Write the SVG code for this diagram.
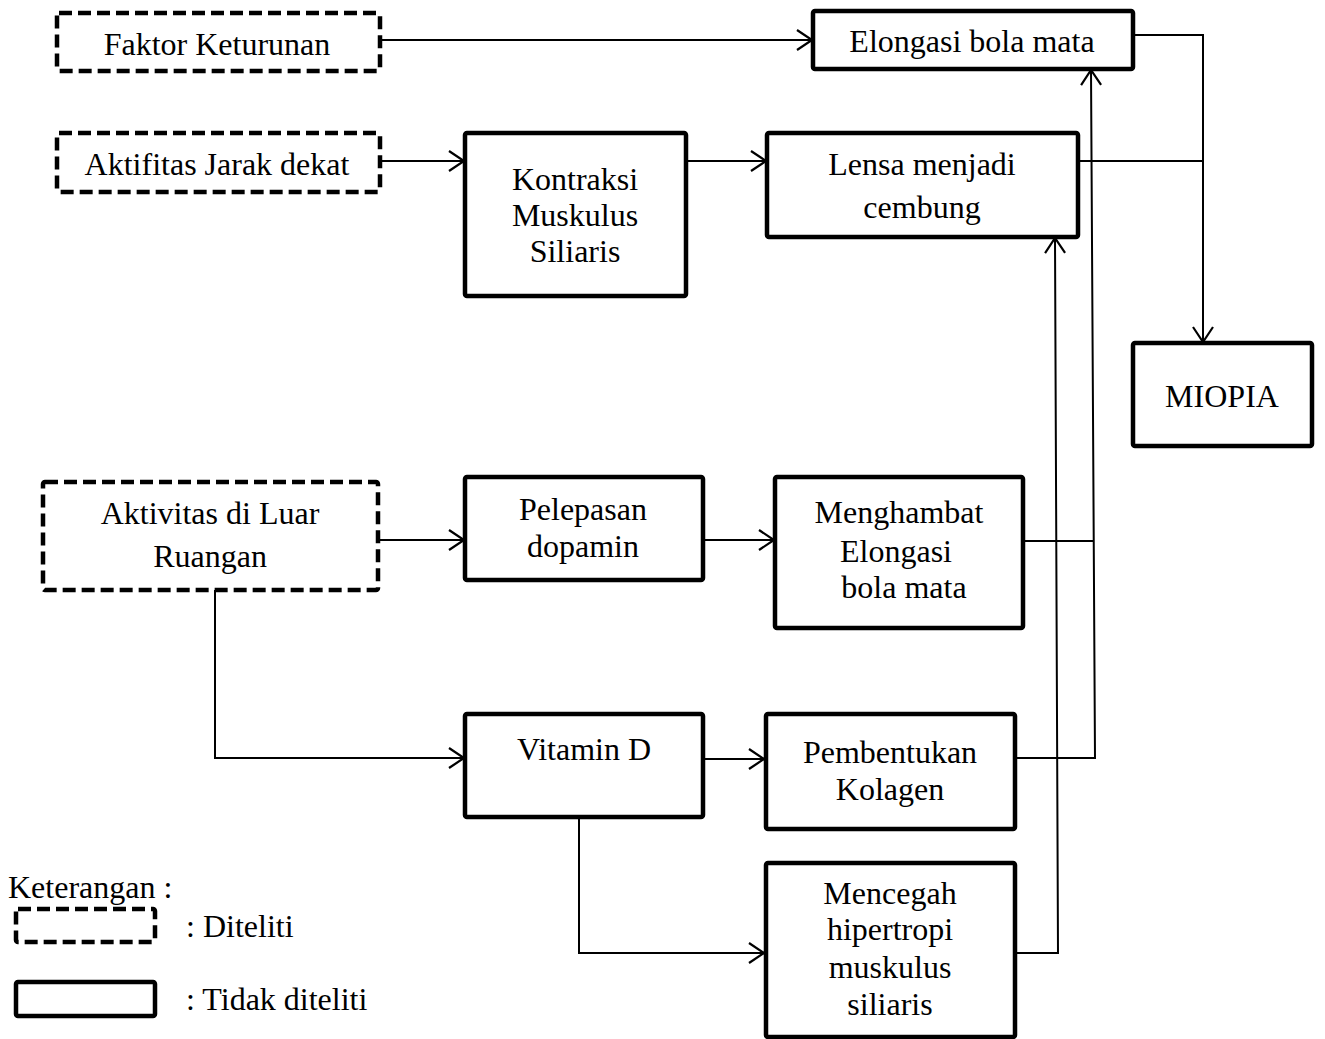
<svg xmlns="http://www.w3.org/2000/svg" width="1325" height="1039" viewBox="0 0 1325 1039">
<style>
.box{fill:#fff;stroke:#000;stroke-width:4.5}
.dash{fill:#fff;stroke:#000;stroke-width:4.5;stroke-dasharray:13 6}
.t{font-family:"Liberation Serif","Times New Roman",serif;font-size:32px;fill:#000;text-anchor:middle}
.l{font-family:"Liberation Serif","Times New Roman",serif;font-size:32px;fill:#000}
.c{fill:none;stroke:#000;stroke-width:2}
</style>
<defs>
<marker id="ar" markerUnits="userSpaceOnUse" markerWidth="22" markerHeight="26" refX="18" refY="12" orient="auto">
<path d="M3,2 L18,12 L3,22" fill="none" stroke="#000" stroke-width="2.2"/>
</marker>
</defs>
<g id="connectors">
<line class="c" x1="380" y1="40" x2="812" y2="40" marker-end="url(#ar)"/>
<line class="c" x1="380" y1="161" x2="464" y2="161" marker-end="url(#ar)"/>
<line class="c" x1="686" y1="161" x2="766" y2="161" marker-end="url(#ar)"/>
<polyline class="c" points="1133,35 1203,35 1203,342" marker-end="url(#ar)"/>
<line class="c" x1="1078" y1="161" x2="1203" y2="161"/>
<line class="c" x1="378" y1="540" x2="464" y2="540" marker-end="url(#ar)"/>
<line class="c" x1="703" y1="540" x2="774" y2="540" marker-end="url(#ar)"/>
<polyline class="c" points="215,590 215,758 464,758" marker-end="url(#ar)"/>
<line class="c" x1="703" y1="759" x2="764" y2="759" marker-end="url(#ar)"/>
<polyline class="c" points="579,817 579,953 764,953" marker-end="url(#ar)"/>
<line class="c" x1="1023" y1="541" x2="1094" y2="541"/>
<polyline class="c" points="1015,758 1095,758 1091,70" marker-end="url(#ar)"/>
<polyline class="c" points="1015,953 1058,953 1055,238" marker-end="url(#ar)"/>
</g>
<g id="faktor"><rect class="dash" x="57" y="13" width="323" height="58" rx="2"/><text class="t" x="217" y="55">Faktor Keturunan</text></g>
<g id="aktifitas"><rect class="dash" x="57" y="133" width="323" height="59" rx="2"/><text class="t" x="217" y="175">Aktifitas Jarak dekat</text></g>
<g id="elongasi"><rect class="box" x="813" y="11" width="320" height="58" rx="2"/><text class="t" x="972" y="52">Elongasi bola mata</text></g>
<g id="kontraksi"><rect class="box" x="465" y="133" width="221" height="163" rx="2"/><text class="t" x="575" y="190">Kontraksi</text><text class="t" x="575" y="226">Muskulus</text><text class="t" x="575" y="262">Siliaris</text></g>
<g id="lensa"><rect class="box" x="767" y="133" width="311" height="104" rx="2"/><text class="t" x="922" y="175">Lensa menjadi</text><text class="t" x="922" y="218">cembung</text></g>
<g id="miopia"><rect class="box" x="1133" y="343" width="179" height="103" rx="2"/><text class="t" x="1222" y="407">MIOPIA</text></g>
<g id="luar"><rect class="dash" x="43" y="482" width="335" height="108" rx="2"/><text class="t" x="210" y="524">Aktivitas di Luar</text><text class="t" x="210" y="567">Ruangan</text></g>
<g id="dopamin"><rect class="box" x="465" y="477" width="238" height="103" rx="2"/><text class="t" x="583" y="520">Pelepasan</text><text class="t" x="583" y="557">dopamin</text></g>
<g id="menghambat"><rect class="box" x="775" y="477" width="248" height="151" rx="2"/><text class="t" x="899" y="523">Menghambat</text><text class="t" x="896" y="562">Elongasi</text><text class="t" x="904" y="598">bola mata</text></g>
<g id="vitd"><rect class="box" x="465" y="714" width="238" height="103" rx="2"/><text class="t" x="584" y="760">Vitamin D</text></g>
<g id="kolagen"><rect class="box" x="766" y="714" width="249" height="115" rx="2"/><text class="t" x="890" y="763">Pembentukan</text><text class="t" x="890" y="800">Kolagen</text></g>
<g id="mencegah"><rect class="box" x="766" y="863" width="249" height="174" rx="2"/><text class="t" x="890" y="904">Mencegah</text><text class="t" x="890" y="940">hipertropi</text><text class="t" x="890" y="978">muskulus</text><text class="t" x="890" y="1015">siliaris</text></g>
<g id="legend">
<text class="l" x="8" y="898">Keterangan :</text>
<rect class="dash" x="16" y="909" width="139" height="33" rx="2"/>
<text class="l" x="186" y="937">: Diteliti</text>
<rect class="box" x="16" y="982" width="139" height="34" rx="2"/>
<text class="l" x="186" y="1010">: Tidak diteliti</text>
</g>
</svg>
